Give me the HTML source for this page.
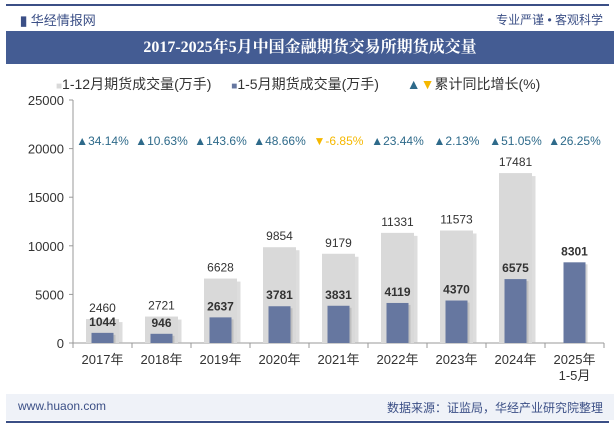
<!DOCTYPE html>
<html><head><meta charset="utf-8">
<style>
body{margin:0;width:615px;height:427px;background:#fff;font-family:"Liberation Sans","Noto Sans CJK SC",sans-serif;position:relative;overflow:hidden}
.abs{position:absolute}
</style></head><body>
<div class="abs" style="left:6px;top:4px;width:603px;height:2px;background:#3b4f86"></div>
<div class="abs" style="left:20px;top:10px;font-size:13px;color:#3b4f86"><span style="font-weight:bold">▮</span> 华经情报网</div>
<div class="abs" style="right:12px;top:11px;font-size:12px;color:#3b4f86">专业严谨 • 客观科学</div>
<div class="abs" style="left:6px;top:31px;width:608px;height:33px;background:#445c93;color:#fff;font:bold 16px 'Liberation Serif','Noto Serif CJK SC',serif;text-align:center;line-height:33px">2017-2025年5月中国金融期货交易所期货成交量</div>
<div class="abs" style="left:56px;top:74px;font-size:14px;color:#333;white-space:nowrap">
<span><span style="color:#d9d9d9;font-size:10px">■</span>1-12月期货成交量(万手)</span>
<span style="margin-left:16px"><span style="color:#6677a0;font-size:10px">■</span>1-5月期货成交量(万手)</span>
<span style="margin-left:24px"><span style="color:#2e6a8a">▲</span><span style="color:#f5b800">▼</span>累计同比增长(%)</span>
</div>
<svg id="chart" class="abs" style="left:0;top:0" width="615" height="427"></svg>
<div class="abs" style="left:6px;top:394px;width:608px;height:26px;background:#eff2f8"></div>
<div class="abs" style="left:18px;top:399px;font-size:12px;color:#3b4f86">www.huaon.com</div>
<div class="abs" style="right:12px;top:399px;font-size:12px;color:#3b4f86">数据来源：证监局，华经产业研究院整理</div>
<div class="abs" style="left:6px;top:421px;width:603px;height:2px;background:#3b4f86"></div>
<script>
const categories=["2017年","2018年","2019年","2020年","2021年","2022年","2023年","2024年","2025年\n1-5月"];
const annual=[2460,2721,6628,9854,9179,11331,11573,17481,null];
const ytd=[1044,946,2637,3781,3831,4119,4370,6575,8301];
const growth=[34.14,10.63,143.6,48.66,-6.85,23.44,2.13,51.05,26.25];
const yTicks=[0,5000,10000,15000,20000,25000];
const NS="http://www.w3.org/2000/svg",svg=document.getElementById('chart');
const x0=73,bw=59,y0=343,ymax=25000,ph=243;
const y=v=>y0-v/ymax*ph, cx=i=>x0+bw*(i+0.5);
function mk(t,a,txt){const e=document.createElementNS(NS,t);for(const k in a)e.setAttribute(k,a[k]);if(txt!=null)e.textContent=txt;svg.appendChild(e);return e;}
let ax=mk('line',{x1:x0,y1:100,x2:x0,y2:y0,stroke:'#999'});

let bx=mk('line',{x1:x0,y1:y0,x2:x0+bw*9,y2:y0,stroke:'#999'});

yTicks.forEach(v=>{let t=mk('text',{x:x0-9,y:y(v)+5,'text-anchor':'end','font-size':13,fill:'#333'},v);

mk('line',{x1:x0-4,y1:y(v),x2:x0,y2:y(v),stroke:'#999'});});
for(let i=0;i<=9;i++)mk('line',{x1:x0+bw*i,y1:y0,x2:x0+bw*i,y2:y0+5,stroke:'#999'});
categories.forEach((c,i)=>{
 if(annual[i]!=null){
  mk('rect',{x:cx(i)-16+3,y:y(annual[i])+3,width:33,height:y0-y(annual[i])-3,fill:'#bbb',opacity:0.5});
  let r=mk('rect',{x:cx(i)-16.5,y:y(annual[i]),width:33,height:y0-y(annual[i]),fill:'#d9d9d9'});
  
  let t=mk('text',{x:cx(i),y:y(annual[i])-7,'text-anchor':'middle','font-size':12,fill:'#333'},annual[i]);
  
 }
 mk('rect',{x:cx(i)-11+2,y:y(ytd[i])+2,width:22,height:y0-y(ytd[i])-2,fill:'#999',opacity:0.4});
 let b=mk('rect',{x:cx(i)-11,y:y(ytd[i]),width:22,height:y0-y(ytd[i]),fill:'#6677a0'});
 
 let t=mk('text',{x:cx(i),y:y(ytd[i])-7,'text-anchor':'middle','font-size':12,'font-weight':'bold',fill:'#333'},ytd[i]);
 
 const lines=c.split('\n');lines.forEach((l,k)=>{let tl=mk('text',{x:cx(i),y:364+k*16,'text-anchor':'middle','font-size':13,fill:'#333'},l);
 });
 const g=growth[i],up=g>=0;
 let gt=mk('text',{x:cx(i),y:145,'text-anchor':'middle','font-size':12,fill:up?'#2e6a8a':'#f5b800'},(up?'▲':'▼')+g+'%');
 
});
</script>
</body></html>
